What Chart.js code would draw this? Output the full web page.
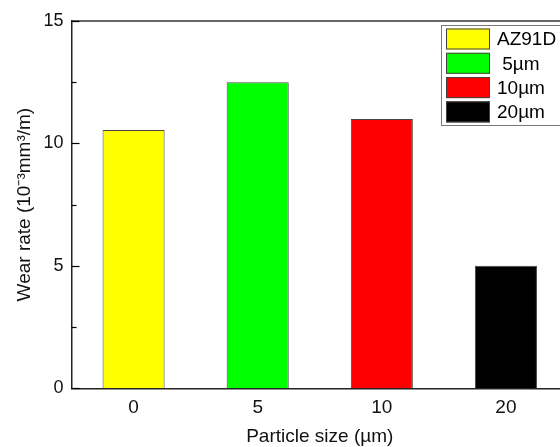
<!DOCTYPE html>
<html>
<head>
<meta charset="utf-8">
<script src="https://cdn.jsdelivr.net/npm/chart.js@4.4.0/dist/chart.umd.min.js"></script>
<style>
  html, body { margin: 0; padding: 0; background: #fff; overflow: hidden; }
  #wrap { position: absolute; left: 0; top: 0; width: 600px; height: 447px; }
</style>
</head>
<body>
<div id="wrap"><canvas id="chart"></canvas></div>
<script>
// ---- data ----
const sizes       = ['0', '5', '10', '20'];
const wearRates   = [10.55, 12.5, 11.0, 5.0];
const seriesNames = ['AZ91D', ' 5µm', '10µm', '20µm'];
const barColors   = ['#ffff00', '#00ff00', '#ff0000', '#000000'];
const yTicks      = [0, 5, 10, 15];

const FONT = "'Liberation Sans', Arial, sans-serif";

// frame top line + inward ticks on the y axis
const framePlugin = {
  id: 'frame',
  afterDraw(chart) {
    const { ctx, chartArea: a, scales: { y } } = chart;
    ctx.save();
    ctx.strokeStyle = '#333';
    ctx.lineWidth = 1.5;
    ctx.beginPath();
    ctx.moveTo(a.left, a.top);
    ctx.lineTo(a.right, a.top);
    ctx.stroke();
    ctx.strokeStyle = '#000';
    ctx.lineWidth = 1.2;
    for (let v = y.min; v <= y.max; v += 2.5) {
      const py = Math.round(y.getPixelForValue(v)) + 0.5;
      const len = v % 5 === 0 ? 8 : 5;
      ctx.beginPath();
      ctx.moveTo(a.left, py);
      ctx.lineTo(a.left + len, py);
      ctx.stroke();
    }
    ctx.restore();
  }
};

// boxed legend in the top right corner
const legendPlugin = {
  id: 'boxLegend',
  afterDraw(chart) {
    const { ctx } = chart;
    const ds = chart.data.datasets[0];
    const x0 = 441, y0 = 25, w = 130, h = 100, pitch = 24.3;
    ctx.save();
    ctx.fillStyle = '#fff';
    ctx.fillRect(x0, y0, w, h);
    ctx.strokeStyle = '#777';
    ctx.lineWidth = 1;
    ctx.strokeRect(x0 + 0.5, y0 + 0.5, w, h);
    ctx.font = '19px ' + FONT;
    ctx.textBaseline = 'middle';
    seriesNames.forEach((name, i) => {
      const sy = y0 + 3.5 + i * pitch;
      ctx.fillStyle = ds.backgroundColor[i];
      ctx.fillRect(x0 + 5, sy, 44, 21);
      ctx.strokeStyle = '#444';
      ctx.strokeRect(x0 + 5.5, sy + 0.5, 43, 20);
      ctx.fillStyle = '#000';
      ctx.fillText(name, x0 + 56, sy + 11.5);
    });
    ctx.restore();
  }
};

new Chart(document.getElementById('chart'), {
  type: 'bar',
  data: {
    labels: sizes,
    datasets: [{
      data: wearRates,
      backgroundColor: barColors,
      borderColor: '#444',
      borderWidth: 1,
      barPercentage: 0.5,
      categoryPercentage: 1
    }]
  },
  options: {
    responsive: true,
    maintainAspectRatio: false,
    animation: false,
    layout: { padding: { top: 21, right: 32, left: 15.5, bottom: 0 } },
    plugins: {
      legend: { display: false },
      tooltip: { enabled: false }
    },
    scales: {
      x: {
        grid: { display: false, drawTicks: false },
        border: { color: '#222', width: 1.5 },
        ticks: { color: '#111', font: { family: FONT, size: 19 }, padding: 8 },
        title: {
          display: true, text: 'Particle size (µm)', color: '#111',
          font: { family: FONT, size: 19, lineHeight: 1.05 }, padding: { top: 0, bottom: 0 }
        }
      },
      y: {
        min: 0, max: 15,
        afterBuildTicks: s => { s.ticks = yTicks.map(v => ({ value: v })); },
        grid: { display: false, drawTicks: false },
        border: { color: '#222', width: 1.5 },
        ticks: { color: '#111', font: { family: FONT, size: 18 }, padding: 8 },
        title: {
          display: true, text: 'Wear rate (10⁻³mm³/m)', color: '#111',
          font: { family: FONT, size: 19, lineHeight: 1 }, padding: { top: 0, bottom: 1 }
        }
      }
    }
  },
  plugins: [framePlugin, legendPlugin]
});
</script>
</body>
</html>
